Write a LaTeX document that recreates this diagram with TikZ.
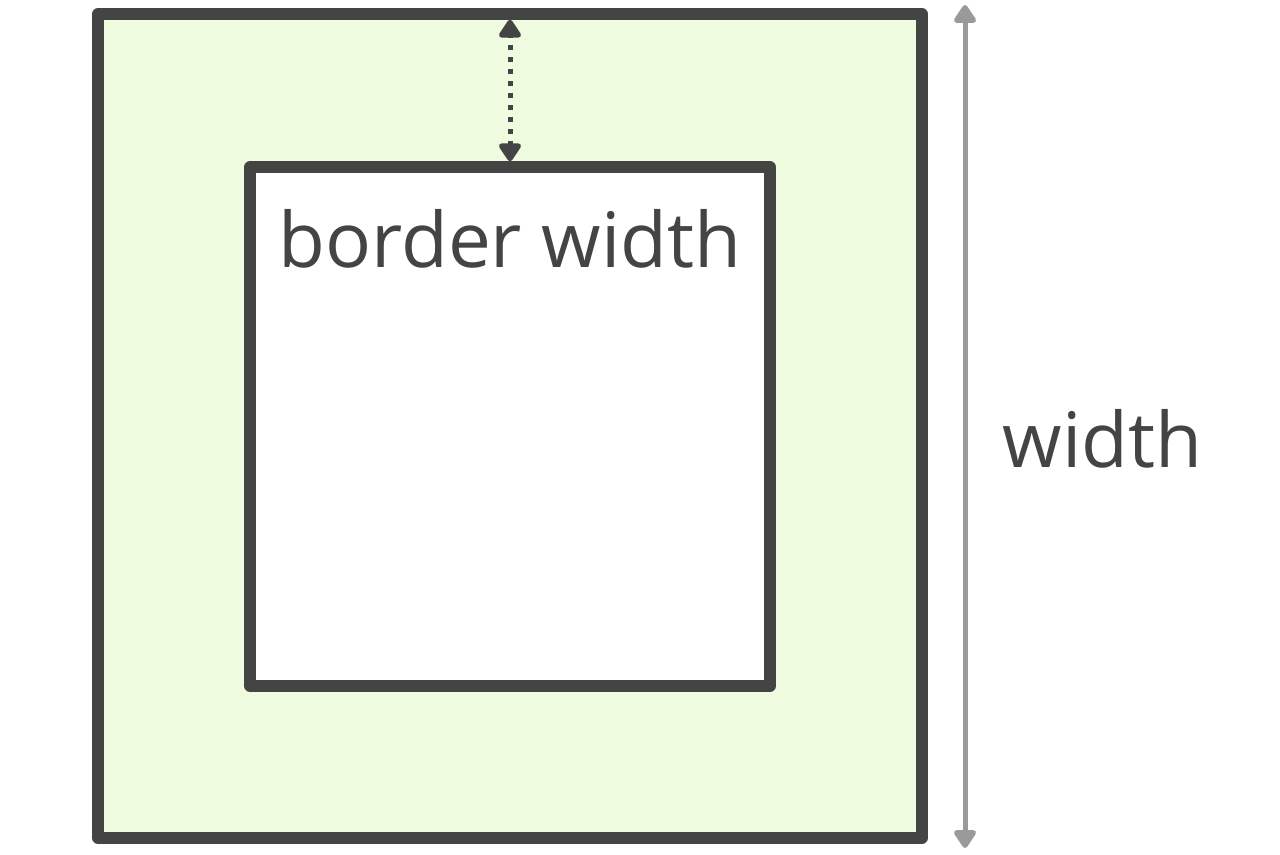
\documentclass[tikz,border=0pt]{standalone}
\usepackage{fontspec}
\setmainfont{Open Sans}
\usepackage{xcolor}
\usepackage{tikz}
\usetikzlibrary{arrows.meta,positioning,calc}
\definecolor{ink}{HTML}{444444}
\definecolor{paleGreen}{HTML}{EFFCE0}
\definecolor{dimGrey}{HTML}{9A9A9A}
\tikzstyle{boxline}  =[draw=ink, line width=0.23cm, line join=round]
\tikzstyle{tip}      =[{Triangle[round,length=0.4cm,width=0.5cm]}-{Triangle[round,length=0.4cm,width=0.5cm]}, line width=0.1cm]

\begin{document}
\begin{tikzpicture}[every node/.style={font=\fontsize{43.5}{50}\selectfont, text=ink}]
  \useasboundingbox (0,0) rectangle (25.6,17.08);

  % blocks
  \node[boxline, fill=paleGreen, minimum width=16.48cm, minimum height=16.48cm,
        inner sep=0pt] (outer) at (10.2, 8.56) {};
  \node[boxline, fill=white, minimum width=10.4cm, minimum height=10.38cm,
        inner sep=0pt] (inner) at (10.2, 8.55) {};

  % labels
  \node[below=0.95cm of inner.north, inner sep=0pt] (bw) {border width};
  \node (wlabel) at (22.05, 8.3) {width};

  % arrows
  \coordinate (gaptop) at ($(outer.north -| inner.north) + (0,-0.23)$);
  \draw[ink, line width=0.1cm, dash pattern=on 0.1cm off 0.14cm,
        shorten <=0.3cm, shorten >=0.3cm] (inner.north) -- (gaptop);
  \path[tip, tips, color=ink] (inner.north) -- (gaptop);
  \coordinate (wtop) at (19.3, 16.98);
  \coordinate (wbot) at (19.3, 0.12);
  \draw[tip, dimGrey] (wtop) -- (wbot);

\end{tikzpicture}
\end{document}
